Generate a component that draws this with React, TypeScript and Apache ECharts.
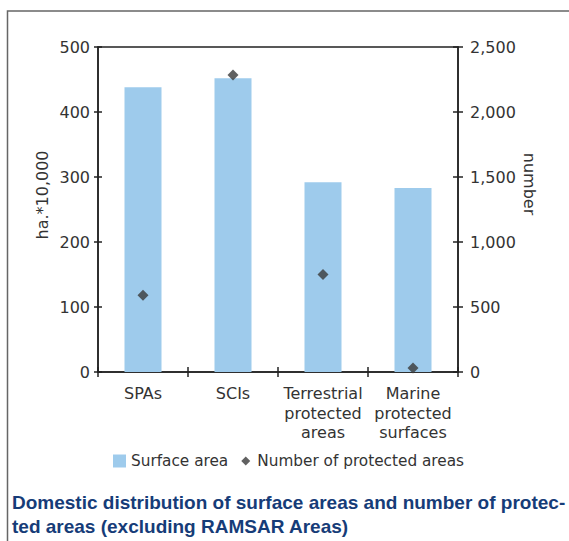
import React, { useEffect, useRef } from "react";
import * as echarts from "echarts";

// Categories and series values
const categories = [
  "SPAs",
  "SCIs",
  "Terrestrial\nprotected\nareas",
  "Marine\nprotected\nsurfaces",
];
const surfaceArea = [438, 452, 292, 283]; // ha.*10,000
const protectedCount = [590, 2285, 750, 30]; // number

// Axis scales
const leftAxis = { min: 0, max: 500, interval: 100 };
const rightAxis = { min: 0, max: 2500, interval: 500 };

const titleLines = [
  "Domestic distribution of surface areas and number of protec-",
  "ted areas (excluding RAMSAR Areas)",
];

const BAR_COLOR = "#9ecbec";
const MARK_COLOR = "#3a3a3a";
const AXIS_COLOR = "#222222";
const TEXT_COLOR = "#333333";
const TITLE_COLOR = "#163c78";
const LABEL_FONT = "DejaVu Sans";

export default function App() {
  const ref = useRef<HTMLDivElement>(null);

  useEffect(() => {
    if (!ref.current) return;
    const chart = echarts.init(ref.current, null, { renderer: "svg" });

    const fmt = (v: number) => v.toLocaleString("en-US");

    const labelStyle = {
      color: TEXT_COLOR,
      fontFamily: LABEL_FONT,
      fontSize: 16,
    };

    chart.setOption({
      animation: false,
      backgroundColor: "#ffffff",
      grid: {
        left: 98,
        right: 111,
        top: 47,
        bottom: 169,
        show: true,
        borderColor: AXIS_COLOR,
        borderWidth: 1.5,
        backgroundColor: "transparent",
      },
      legend: {
        left: 113,
        top: 453,
        padding: 0,
        itemWidth: 13,
        itemHeight: 13,
        itemGap: 11,
        textStyle: { ...labelStyle, fontSize: 15.3, lineHeight: 16 },
        data: [
          { name: "Surface area", icon: "rect" },
          {
            name: "Number of protected areas",
            icon: "path://M0,0M26,26M13,4L22,13L13,22L4,13Z",
          },
        ],
      },
      xAxis: [
        {
          type: "category",
          data: categories,
          position: "bottom",
          axisLine: { show: true, lineStyle: { color: AXIS_COLOR, width: 1.5 } },
          axisTick: { show: true, inside: false, length: 5, lineStyle: { color: AXIS_COLOR, width: 1.5 } },
          axisLabel: {
            ...labelStyle,
            lineHeight: 19.5,
            margin: 12,
            interval: 0,
          },
          splitLine: { show: false },
        },
        {
          // inner half of the crossing ticks
          type: "category",
          data: categories,
          position: "bottom",
          axisLine: { show: false },
          axisTick: { show: true, inside: true, length: 5, lineStyle: { color: AXIS_COLOR, width: 1.5 } },
          axisLabel: { show: false },
          splitLine: { show: false },
        },
      ],
      yAxis: [
        {
          type: "value",
          position: "left",
          ...leftAxis,
          axisLine: { show: true, lineStyle: { color: AXIS_COLOR, width: 1.5 } },
          axisTick: { show: true, inside: false, length: 4, lineStyle: { color: AXIS_COLOR, width: 1.5 } },
          axisLabel: { ...labelStyle, margin: 8 },
          splitLine: { show: false },
        },
        {
          type: "value",
          position: "right",
          ...rightAxis,
          axisLine: { show: true, lineStyle: { color: AXIS_COLOR, width: 1.5 } },
          axisTick: { show: true, inside: false, length: 5, lineStyle: { color: AXIS_COLOR, width: 1.5 } },
          axisLabel: { ...labelStyle, margin: 12, formatter: fmt },
          splitLine: { show: false },
        },
        {
          type: "value",
          position: "left",
          ...leftAxis,
          axisLine: { show: false },
          axisTick: { show: true, inside: true, length: 4, lineStyle: { color: AXIS_COLOR, width: 1.5 } },
          axisLabel: { show: false },
          splitLine: { show: false },
        },
        {
          type: "value",
          position: "right",
          ...rightAxis,
          axisLine: { show: false },
          axisTick: { show: true, inside: true, length: 5, lineStyle: { color: AXIS_COLOR, width: 1.5 } },
          axisLabel: { show: false },
          splitLine: { show: false },
        },
      ],
      series: [
        {
          name: "Surface area",
          type: "bar",
          xAxisIndex: 0,
          yAxisIndex: 0,
          data: surfaceArea,
          barWidth: 37,
          itemStyle: { color: BAR_COLOR },
          z: 2,
        },
        {
          name: "Number of protected areas",
          type: "scatter",
          xAxisIndex: 0,
          yAxisIndex: 1,
          data: protectedCount,
          symbol: "diamond",
          symbolSize: 11,
          itemStyle: { color: MARK_COLOR },
          z: 5,
        },
      ],
      graphic: [
        // outer frame (left and top edges)
        {
          type: "polyline",
          shape: { points: [[7.5, 541], [7.5, 11], [569, 11]] },
          style: { stroke: "#666666", lineWidth: 1.5, fill: null },
          silent: true,
        },
        {
          type: "text",
          x: 42,
          y: 195,
          rotation: Math.PI / 2,
          style: {
            text: "ha.*10,000",
            fill: TEXT_COLOR,
            font: `16px "${LABEL_FONT}"`,
            align: "center",
            verticalAlign: "middle",
          },
        },
        {
          type: "text",
          x: 529,
          y: 184,
          rotation: -Math.PI / 2,
          style: {
            text: "number",
            fill: TEXT_COLOR,
            font: `16px "${LABEL_FONT}"`,
            align: "center",
            verticalAlign: "middle",
          },
        },
        ...titleLines.map((t, i) => ({
          type: "text",
          x: 12,
          y: 502 + i * 24,
          style: {
            text: t,
            fill: TITLE_COLOR,
            font: `bold 19px "Liberation Sans", sans-serif`,
            align: "left",
            verticalAlign: "middle",
          },
        })),
      ],
    });

    return () => chart.dispose();
  }, []);

  return (
    <div
      ref={ref}
      style={{ position: "absolute", left: 0, top: 0, width: 569, height: 541 }}
    />
  );
}
